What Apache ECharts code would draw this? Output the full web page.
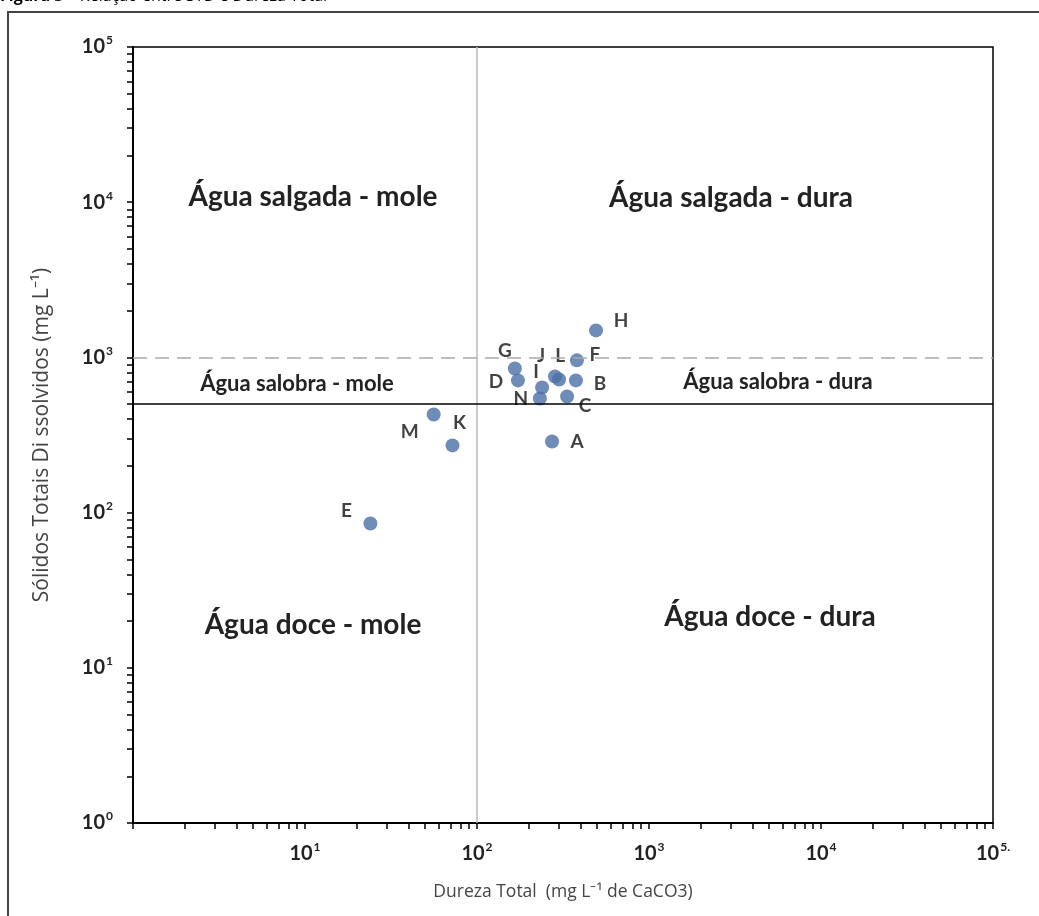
<!DOCTYPE html>
<html>
<head>
<meta charset="utf-8">
<script src="https://cdn.jsdelivr.net/npm/echarts@6/dist/echarts.min.js"></script>
<style>
  html, body { margin: 0; padding: 0; background: #fff; }
  #chart { width: 1039px; height: 916px; }
</style>
</head>
<body>
<div id="chart"></div>
<script>
// pontos (amostras)
const pointNames = ["A", "B", "C", "D", "E", "F", "G", "H", "I", "J", "K", "L", "M", "N"];
const dureza = [273, 376, 334, 173, 24, 381, 166, 492, 239, 284, 72, 300, 56, 232];
const std = [287, 711, 560, 711, 85, 957, 849, 1493, 640, 754, 271, 721, 429, 544];

// valores dos ticks
const majorTicks = [1, 10, 100, 1000, 10000, 100000];

// limites de classificacao
const limiteDureza = 100;
const limiteSalobra = 500;
const limiteSalgada = 1000;

// textos das regioes
const regionTexts = [
  "Água salgada - mole", "Água salgada - dura",
  "Água salobra - mole", "Água salobra - dura",
  "Água doce - mole", "Água doce - dura"
];

// deslocamento dos rotulos de cada ponto (estilo)
const labelOffset = {
  A: [25, 0], B: [24, 3], C: [18, 9], D: [-22, 1], E: [-24, -13],
  F: [18, -5], G: [-10, -18], H: [25, -10], I: [-6, -16], J: [-14, -21],
  K: [7, -23], L: [1, -24], M: [-24, 17], N: [-19, 0]
};

// ticks menores 2..9 em cada decada
const minorTicks = [];
for (let e = 0; e < 5; e++) {
  for (let m = 1; m <= 9; m++) minorTicks.push(m * Math.pow(10, e));
}
minorTicks.push(100000);

const chart = echarts.init(document.getElementById("chart"));

const supRich = {
  b: { fontFamily: "Lato", fontWeight: "bold", fontSize: 20, color: "#222" },
  s: { fontFamily: "Lato", fontWeight: "bold", fontSize: 12, color: "#222", padding: [0, 0, 13, 1] }
};

function expLabel(v, suffix) {
  const e = Math.round(Math.log10(v));
  return "{b|10}{s|" + e + (suffix || "") + "}";
}

const data = pointNames.map((n, i) => ({
  name: n,
  value: [dureza[i], std[i]],
  label: { offset: labelOffset[n] }
}));

const regionPos = [
  [313, 197, 28], [731, 198, 28],
  [297, 384, 22], [778, 382, 22],
  [313, 625, 28], [770, 617, 28]
];

const option = {
  animation: false,
  backgroundColor: "#fff",
  grid: {
    left: 133, right: 46, top: 47, bottom: 93,
    show: true, borderColor: "#000", borderWidth: 1.5
  },
  xAxis: {
    type: "log", logBase: 10, min: 1, max: 100000,
    name: "Dureza Total  (mg L⁻¹ de CaCO3)",
    nameLocation: "middle", nameGap: 60,
    nameTextStyle: { fontFamily: "Open Sans", fontSize: 17.5, color: "#444" },
    axisLine: { show: true, lineStyle: { color: "#000", width: 2 } },
    axisTick: { show: true, length: 6, lineStyle: { color: "#000", width: 1.5 }, customValues: minorTicks },
    axisLabel: {
      customValues: majorTicks.slice(1),
      margin: 18,
      formatter: v => expLabel(v, v >= 100000 ? "." : ""),
      rich: supRich
    },
    splitLine: { show: false }
  },
  yAxis: {
    type: "log", logBase: 10, min: 1, max: 100000,
    name: "Sólidos Totais Di ssolvidos (mg L⁻¹)",
    nameLocation: "middle", nameGap: 80,
    nameTextStyle: { fontFamily: "Open Sans", fontSize: 21, color: "#444" },
    axisLine: { show: true, lineStyle: { color: "#000", width: 2 } },
    axisTick: { show: true, length: 6, lineStyle: { color: "#000", width: 1.5 }, customValues: minorTicks },
    axisLabel: {
      customValues: majorTicks,
      margin: 20,
      formatter: v => expLabel(v),
      rich: supRich
    },
    splitLine: { show: false }
  },
  series: [{
    type: "scatter",
    data: data,
    symbolSize: 14,
    itemStyle: { color: "#4a6fa5" },
    label: {
      show: true,
      position: "inside",
      formatter: "{b}",
      fontFamily: "Lato", fontWeight: "bold", fontSize: 19, color: "#111"
    },
    markLine: {
      silent: true,
      symbol: "none",
      label: { show: false },
      data: [
        { xAxis: limiteDureza, lineStyle: { color: "#bbb", width: 1.5, type: "solid" } },
        { yAxis: limiteSalgada, lineStyle: { color: "#aaa", width: 1.5, type: [14, 8] } },
        { yAxis: limiteSalobra, lineStyle: { color: "#000", width: 1.5, type: "solid" } }
      ]
    }
  }],
  graphic: [
    {
      type: "rect", silent: true, z: -1,
      shape: { x: 8, y: 12, width: 1040, height: 920 },
      style: { fill: "none", stroke: "#444", lineWidth: 2 }
    },
    {
      type: "text", left: 0, top: -12,
      style: {
        text: "{t|Figura 3}{r| – Relação entre STD e Dureza Total}",
        rich: {
          t: { fontFamily: "Open Sans", fontWeight: "bold", fontSize: 16, color: "#111" },
          r: { fontFamily: "Open Sans", fontSize: 16, color: "#555" }
        }
      }
    }
  ].concat(regionTexts.map((t, i) => ({
    type: "text",
    x: regionPos[i][0], y: regionPos[i][1],
    style: {
      text: t, align: "center", verticalAlign: "middle",
      fontFamily: "Lato", fontWeight: "bold", fontSize: regionPos[i][2], fill: "#222"
    }
  })))
};

chart.setOption(option);
</script>
</body>
</html>
